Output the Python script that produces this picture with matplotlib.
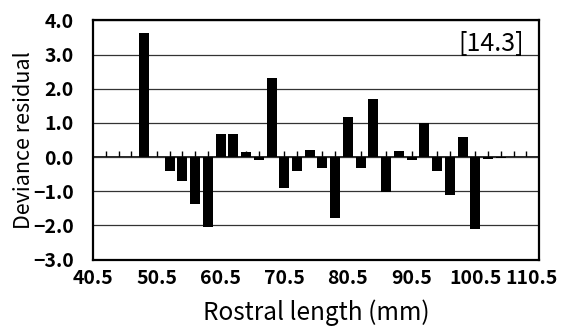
import matplotlib
matplotlib.use("Agg")
import matplotlib.pyplot as plt
import matplotlib.transforms as mtransforms
from matplotlib.ticker import FuncFormatter

plt.rcParams['font.family'] = ['Noto Sans CJK JP', 'DejaVu Sans']

# rostral length bins (mm) and deviance residuals
rostral_length = [42.5, 44.5, 46.5, 48.5, 50.5, 52.5, 54.5, 56.5, 58.5, 60.5,
                  62.5, 64.5, 66.5, 68.5, 70.5, 72.5, 74.5, 76.5, 78.5, 80.5,
                  82.5, 84.5, 86.5, 88.5, 90.5, 92.5, 94.5, 96.5, 98.5, 100.5,
                  102.5, 104.5, 106.5, 108.5]
residual = [0.0, 0.0, 0.0, 3.64, 0.0, -0.40, -0.69, -1.37, -2.04, 0.68,
            0.68, 0.14, -0.10, 2.31, -0.91, -0.40, 0.21, -0.33, -1.78, 1.17,
            -0.33, 1.69, -1.01, 0.17, -0.08, 1.00, -0.42, -1.10, 0.58, -2.11,
            -0.05, -0.04, 0.0, 0.0]

x_ticks = [40.5, 50.5, 60.5, 70.5, 80.5, 90.5, 100.5, 110.5]
y_ticks = [-3.0, -2.0, -1.0, 0.0, 1.0, 2.0, 3.0, 4.0]
panel_label = "[14.3]"

fig = plt.figure(figsize=(5.64, 3.29), dpi=100)
ax = fig.add_axes([0.165, 0.211, 0.791, 0.727])

ax.set_axisbelow(True)
ax.grid(axis='y', color='#333333', linewidth=0.9)
ax.bar(rostral_length, residual, width=1.57, color='black', zorder=3)

ax.set_xlim(40.5, 110.5)
ax.set_ylim(-3.0, 4.0)
ax.set_xticks(x_ticks)
ax.set_yticks(y_ticks)
ax.yaxis.set_major_formatter(FuncFormatter(lambda v, pos: f"{v:.1f}".replace('-', '\u2212')))
ax.tick_params(length=0, labelsize=14)
ax.tick_params(axis='y', pad=14)
ax.tick_params(axis='x', pad=7)
for lab in ax.get_xticklabels() + ax.get_yticklabels():
    lab.set_fontweight('bold')

# last x label is pulled inward so it stays inside the figure
last = ax.get_xticklabels()[-1]
last.set_transform(last.get_transform() +
                   mtransforms.ScaledTranslation(-0.08, 0, fig.dpi_scale_trans))

for sp in ax.spines.values():
    sp.set_linewidth(1.6)

# zero line with small upward ticks at each bin
ax2 = ax.twiny()
ax2.set_xlim(ax.get_xlim())
ax2.spines['bottom'].set_position(('data', 0))
ax2.spines['bottom'].set_linewidth(1.2)
for side in ['top', 'left', 'right']:
    ax2.spines[side].set_visible(False)
ax2.xaxis.set_ticks_position('bottom')
ax2.set_xticks(rostral_length)
ax2.tick_params(direction='in', length=4, width=1, labelbottom=False, labeltop=False)
ax2.set_zorder(ax.get_zorder() - 1)
ax.patch.set_visible(False)

ax.set_xlabel("Rostral length (mm)", fontsize=17.5)
ax.set_ylabel("Deviance residual", fontsize=15.5)
ax.xaxis.set_label_coords(0.5, -0.165)
ax.yaxis.set_label_coords(-0.13, 0.5)
ax.text(0.965, 0.955, panel_label, transform=ax.transAxes, ha='right', va='top',
        fontsize=18)

fig.savefig("out.png", dpi=100)
